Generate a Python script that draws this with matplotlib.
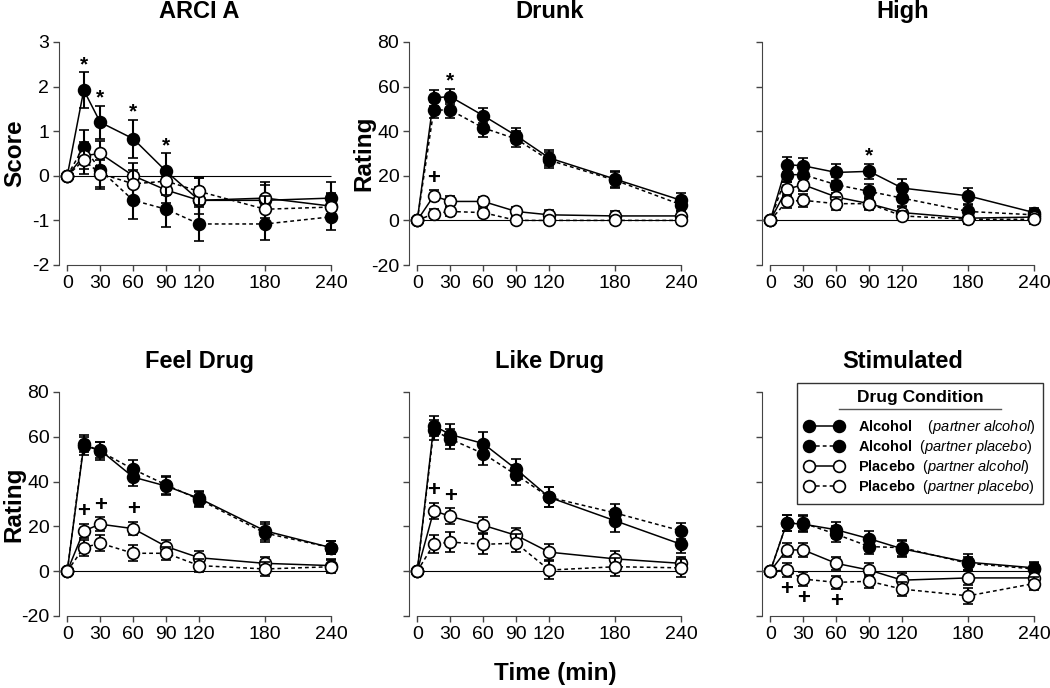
import matplotlib
matplotlib.use('Agg')
import matplotlib.pyplot as plt
from matplotlib.lines import Line2D

plt.rcParams['font.family'] = ['Liberation Sans', 'DejaVu Sans']
plt.rcParams['mathtext.fontset'] = 'custom'
plt.rcParams['mathtext.rm'] = 'Liberation Sans'
plt.rcParams['mathtext.it'] = 'Liberation Sans:italic'
plt.rcParams['mathtext.bf'] = 'Liberation Sans:bold'
plt.rcParams['axes.unicode_minus'] = False

times = [0, 15, 30, 60, 90, 120, 180, 240]
time_ticks = [0, 30, 60, 90, 120, 180, 240]

# ARCI A (score)
arci_aa = [0, 1.92, 1.2, 0.83, 0.1, -0.55, -0.55, -0.5]
arci_ap = [0, 0.65, 0.13, -0.55, -0.75, -1.08, -1.08, -0.92]
arci_pa = [0, 0.45, 0.5, 0.0, -0.32, -0.55, -0.5, -0.68]
arci_pp = [0, 0.35, 0.05, -0.18, -0.12, -0.35, -0.75, -0.7]
arci_aa_err = [0, 0.4, 0.37, 0.42, 0.4, 0.5, 0.4, 0.35]
arci_ap_err = [0, 0.38, 0.42, 0.42, 0.4, 0.38, 0.35, 0.3]
arci_pa_err = [0, 0.3, 0.28, 0.28, 0.3, 0.3, 0.3, 0.3]
arci_pp_err = [0, 0.3, 0.3, 0.3, 0.3, 0.3, 0.3, 0.3]

# Drunk
drunk_aa = [0, 55, 55.5, 47, 38, 28, 18.5, 9]
drunk_ap = [0, 49.5, 49.5, 41.5, 36.5, 27, 18, 7]
drunk_pa = [0, 11, 8.5, 8.5, 4, 2.5, 2, 2]
drunk_pp = [0, 3, 4, 3.5, 0, 0, 0, 0]
drunk_aa_err = [0, 3.5, 3.5, 3.5, 3.5, 3.5, 3.5, 3.5]
drunk_ap_err = [0, 3.5, 3.5, 4, 3.5, 3.5, 3.5, 3]
drunk_pa_err = [0, 2.5, 2.5, 2, 2, 2, 2, 2]
drunk_pp_err = [0, 2, 2, 2, 1.5, 1.5, 1.5, 1.5]

# High
high_aa = [0, 25, 24.5, 21.5, 22, 14.5, 11, 3.5]
high_ap = [0, 20.5, 20.5, 16, 13, 10, 4, 2.5]
high_pa = [0, 14, 16, 10.5, 7.5, 3.5, 1, 1.5]
high_pp = [0, 8.5, 9, 7.5, 7.5, 2, 0.5, 0.5]
high_aa_err = [0, 3.5, 3.5, 4, 3.5, 4, 3.5, 2]
high_ap_err = [0, 3.5, 3.5, 3.5, 3.5, 3.5, 3, 2]
high_pa_err = [0, 3, 3, 3, 3, 2.5, 2, 2]
high_pp_err = [0, 3, 3, 3, 2.5, 2, 2, 2]

# Feel Drug
feel_aa = [0, 56, 54, 42, 38, 32.5, 18, 10.5]
feel_ap = [0, 57, 53.5, 45.5, 38.5, 32, 17, 10.5]
feel_pa = [0, 18, 21, 19, 11, 6, 3.5, 2.5]
feel_pp = [0, 10.5, 12.5, 8, 8, 2.5, 1, 2]
feel_aa_err = [0, 4, 3.5, 4, 4, 3.5, 4, 3]
feel_ap_err = [0, 4, 4, 4, 4, 3.5, 4, 3]
feel_pa_err = [0, 3, 3, 3, 3, 3, 3, 3]
feel_pp_err = [0, 3.5, 3.5, 3.5, 3, 3, 3, 3]

# Like Drug
like_aa = [0, 65, 61, 57, 45.5, 33, 22.5, 12]
like_ap = [0, 63, 59, 52.5, 43, 33, 26, 18]
like_pa = [0, 27, 24.5, 20.5, 16, 8.5, 5.5, 3.5]
like_pp = [0, 12, 13, 12, 12.5, 0.5, 2, 1.5]
like_aa_err = [0, 4.5, 4.5, 5, 4.5, 4.5, 5, 4]
like_ap_err = [0, 4.5, 4.5, 5, 4.5, 4.5, 4, 3.5]
like_pa_err = [0, 3.5, 3.5, 3.5, 3.5, 3.5, 3.5, 3]
like_pp_err = [0, 4, 4.5, 4.5, 4, 4, 4, 4]

# Stimulated
stim_aa = [0, 21.5, 21, 18.5, 14.5, 10, 4, 1.5]
stim_ap = [0, 21.5, 21.5, 16.5, 11, 10.5, 3.5, 1]
stim_pa = [0, 9.5, 9.5, 3.5, 0.5, -4, -3, -3]
stim_pp = [0, 0.5, -3.5, -5, -4.5, -8, -11, -5.5]
stim_aa_err = [0, 3.5, 3.5, 3.5, 3.5, 3.5, 3.5, 2.5]
stim_ap_err = [0, 3.5, 3.5, 3.5, 3.5, 3.5, 3, 2.5]
stim_pa_err = [0, 3, 3, 3, 3, 3, 3, 3]
stim_pp_err = [0, 3, 3, 3, 3, 3, 3.5, 3]

panel_titles = ['ARCI A', 'Drunk', 'High', 'Feel Drug', 'Like Drug', 'Stimulated']
series_labels = [r'$\mathbf{Alcohol}$    ($\mathit{partner\ alcohol}$)',
                 r'$\mathbf{Alcohol}$  ($\mathit{partner\ placebo}$)',
                 r'$\mathbf{Placebo}$  ($\mathit{partner\ alcohol}$)',
                 r'$\mathbf{Placebo}$  ($\mathit{partner\ placebo}$)']

# significance marks: panel, time, symbol, series the mark sits on, above/below
sig_panel = [0, 0, 0, 0, 1, 1, 2, 3, 3, 3, 4, 4, 5, 5, 5]
sig_time = [15, 30, 60, 90, 30, 15, 90, 15, 30, 60, 15, 30, 15, 30, 60]
sig_symbol = ['*', '*', '*', '*', '*', '+', '*', '+', '+', '+', '+', '+', '+', '+', '+']
sig_series = [0, 0, 0, 0, 0, 2, 0, 2, 2, 2, 2, 2, 3, 3, 3]
sig_above = [True] * 12 + [False] * 3

means = [[arci_aa, arci_ap, arci_pa, arci_pp],
         [drunk_aa, drunk_ap, drunk_pa, drunk_pp],
         [high_aa, high_ap, high_pa, high_pp],
         [feel_aa, feel_ap, feel_pa, feel_pp],
         [like_aa, like_ap, like_pa, like_pp],
         [stim_aa, stim_ap, stim_pa, stim_pp]]
errs = [[arci_aa_err, arci_ap_err, arci_pa_err, arci_pp_err],
        [drunk_aa_err, drunk_ap_err, drunk_pa_err, drunk_pp_err],
        [high_aa_err, high_ap_err, high_pa_err, high_pp_err],
        [feel_aa_err, feel_ap_err, feel_pa_err, feel_pp_err],
        [like_aa_err, like_ap_err, like_pa_err, like_pp_err],
        [stim_aa_err, stim_ap_err, stim_pa_err, stim_pp_err]]

faces = ['black', 'black', 'white', 'white']
styles = ['-', (0, (2.5, 2)), '-', (0, (2.5, 2))]

W, H = 1050, 688
fig = plt.figure(figsize=(W / 100, H / 100), dpi=100)

lefts = [59, 409, 762]
rows = [(42, 265), (392, 616)]
ax_w = 281

axes = []
for i in range(6):
    r, c = divmod(i, 3)
    top, bot = rows[r]
    ax = fig.add_axes([lefts[c] / W, 1 - bot / H, ax_w / W, (bot - top) / H])
    axes.append(ax)
    ax.set_xlim(-7.5, 248)
    if i == 0:
        ax.set_ylim(-2, 3)
        ax.set_yticks([-2, -1, 0, 1, 2, 3])
    else:
        ax.set_ylim(-20, 80)
        ax.set_yticks([-20, 0, 20, 40, 60, 80])
    ax.hlines(0, times[0], times[-1], color='black', lw=0.8, zorder=1)
    for k in range(4):
        ax.errorbar(times, means[i][k], yerr=errs[i][k], color='black',
                    lw=1.1, ls=styles[k], marker='o', ms=8.5, mfc=faces[k],
                    mec='black', mew=1.2, ecolor='black', elinewidth=1.5,
                    capsize=3.5, capthick=1.5, zorder=2 + k)
    for s in ['top', 'right']:
        ax.spines[s].set_visible(False)
    ax.spines['bottom'].set_bounds(0, 240)
    ax.spines['left'].set_color('#444444')
    ax.spines['bottom'].set_color('#444444')
    ax.set_xticks(time_ticks)
    ax.tick_params(axis='both', direction='out', length=4, width=1,
                   color='#444444', labelsize=14, pad=3)
    if i not in (0, 1, 3):
        ax.set_yticklabels([])
    ax.text(0.5, 1 + 24 / (bot - top), panel_titles[i], transform=ax.transAxes,
            ha='center', va='baseline', fontsize=17, fontweight='bold')
    if i in (0, 1, 3):
        ax.set_ylabel('Score' if i == 0 else 'Rating', fontsize=17.5,
                      fontweight='bold')
        ax.yaxis.set_label_coords(-0.118, 0.5)

for p, t, sym, sr, up in zip(sig_panel, sig_time, sig_symbol, sig_series, sig_above):
    ax = axes[p]
    j = times.index(t)
    lo, hi = ax.get_ylim()
    off = 0.055 * (hi - lo)
    m = means[p][sr][j]
    e = errs[p][sr][j]
    y = m + e + off if up else m - e - off
    if sym == '*':
        y -= 0.02 * (hi - lo)
    ax.text(t, y, sym, ha='center', va='center', fontsize=15 if sym == '*' else 16,
            fontweight='bold', zorder=10)

fig.text(555 / W, 1 - 680 / H, 'Time (min)', ha='center', va='baseline',
         fontsize=17.5, fontweight='bold')

handles = [Line2D([0], [0], color='black', lw=1.1, ls=styles[k], marker='o',
                  ms=8.5, mfc=faces[k], mec='black', mew=1.2) for k in range(4)]
leg = axes[5].legend(handles, series_labels, loc='upper right',
                     bbox_to_anchor=(1.0, 1.04), borderaxespad=0, numpoints=2,
                     handlelength=2.7, fontsize=10.5, title='Drug Condition',
                     title_fontproperties={'weight': 'bold', 'size': 12.5},
                     fancybox=False, edgecolor='#333333', framealpha=1,
                     labelspacing=0.15, borderpad=0.5, handletextpad=1.0)
leg.get_frame().set_linewidth(1)
leg._legend_box.sep = 9

fig.canvas.draw()
tb = leg.get_title().get_window_extent()
uy = (tb.y0 - 4) / H
fig.add_artist(Line2D([(tb.x0 - 18) / W, (tb.x1 + 18) / W], [uy, uy],
                      color='#555555', lw=1, transform=fig.transFigure))

fig.savefig('out.png', dpi=100)
plt.close(fig)
